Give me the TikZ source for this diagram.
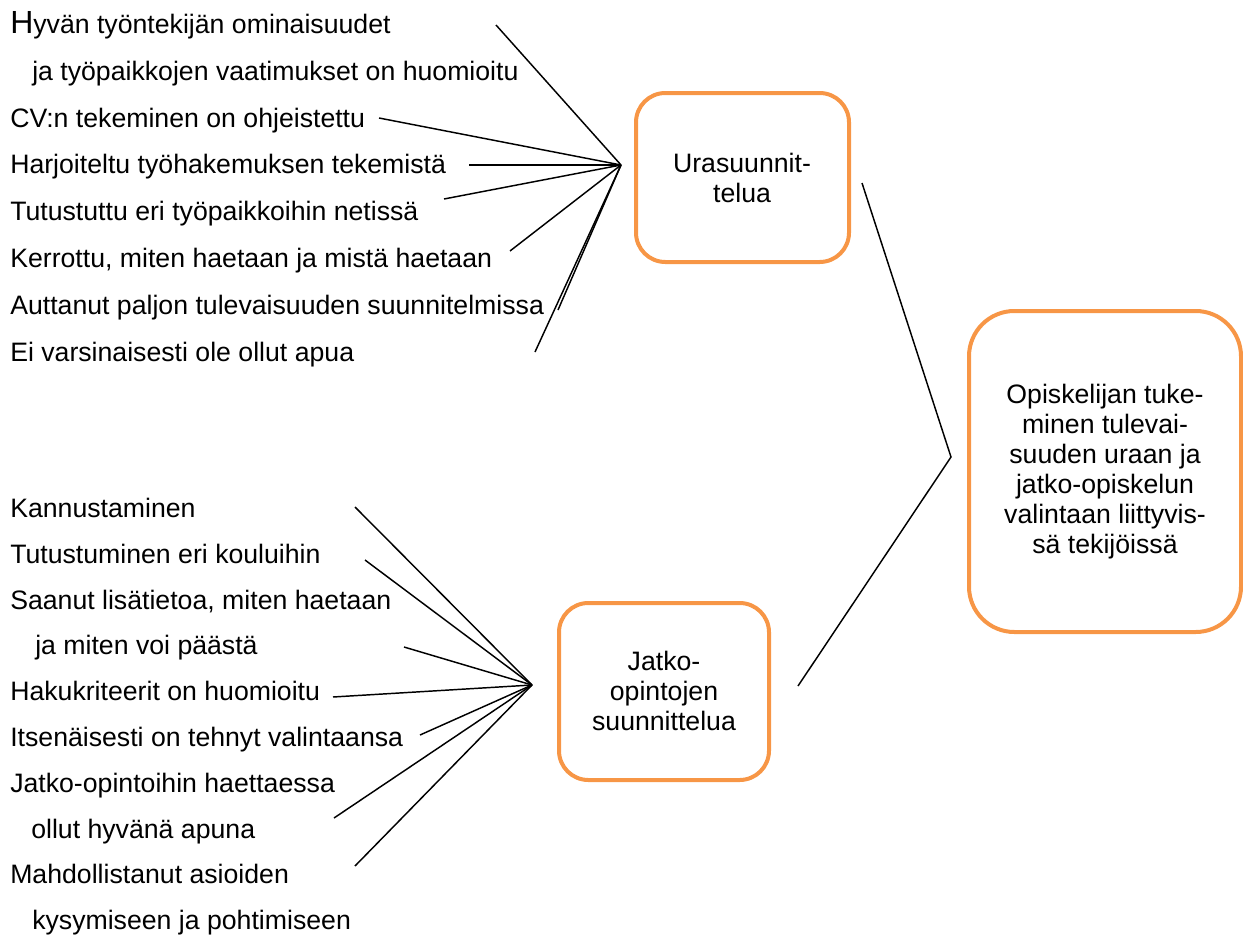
\documentclass[tikz,border=0pt]{standalone}
\usepackage{fontspec}
\setmainfont{Liberation Sans}
\definecolor{boxorange}{HTML}{F79646}
\tikzset{
  item/.style={anchor=base west,inner sep=0pt},
  topic/.style={draw=boxorange,line width=3pt,rounded corners=22pt,align=center,
    font=\fontsize{20}{22.5}\selectfont},
  spoke/.style={line width=1.1pt}
}
\begin{document}
\begin{tikzpicture}[x=0.75pt,y=-0.75pt,font=\fontsize{20}{24}\selectfont]
    \useasboundingbox (0,0) rectangle (1243,935);
    % boxes
    \draw[topic] (636,93) rectangle (849,262);
    \node[align=center,font=\fontsize{20}{22.5}\selectfont] (ura) at (742,178) {Urasuunnit-\\telua};
    \draw[topic] (559,603) rectangle (769,780);
    \node[align=center,font=\fontsize{20}{22.5}\selectfont] (jatko) at (664,691) {Jatko-\\opintojen\\suunnittelua};
    \draw[topic,rounded corners=34pt] (969,311) rectangle (1241,632);
    \node[align=center,font=\fontsize{20}{22.5}\selectfont] (tuki) at (1105,472) {Opiskelijan tuke-\\minen tulevai-\\suuden uraan ja\\jatko-opiskelun\\valintaan liittyvis-\\sä tekijöissä};
    % upper items
    \node[item] (u1) at (10,33) {{\fontsize{24}{24}\selectfont H}yvän työntekijän ominaisuudet};
    \node[item] (u2) at (32,80) {ja työpaikkojen vaatimukset on huomioitu};
    \node[item] (u3) at (10,127) {CV:n tekeminen on ohjeistettu};
    \node[item] (u4) at (10,173) {Harjoiteltu työhakemuksen tekemistä};
    \node[item] (u5) at (10,220) {Tutustuttu eri työpaikkoihin netissä};
    \node[item] (u6) at (10,267) {Kerrottu, miten haetaan ja mistä haetaan};
    \node[item] (u7) at (10,314) {Auttanut paljon tulevaisuuden suunnitelmissa};
    \node[item] (u8) at (10,361) {Ei varsinaisesti ole ollut apua};
    % lower items
    \node[item] (l1) at (10,517) {Kannustaminen};
    \node[item] (l2) at (10,563) {Tutustuminen eri kouluihin};
    \node[item] (l3) at (10,609) {Saanut lisätietoa, miten haetaan};
    \node[item] (l4) at (35,654) {ja miten voi päästä};
    \node[item] (l5) at (10,700) {Hakukriteerit on huomioitu};
    \node[item] (l6) at (10,746) {Itsenäisesti on tehnyt valintaansa};
    \node[item] (l7) at (10,792) {Jatko-opintoihin haettaessa};
    \node[item] (l8) at (31,838) {ollut hyvänä apuna};
    \node[item] (l9) at (10,883) {Mahdollistanut asioiden};
    \node[item] (l10) at (32,929) {kysymiseen ja pohtimiseen};
    % spoke ends
    \coordinate (hu) at (621,165);
    \coordinate (hl) at (532,685);
    \coordinate (hr) at (951,457);
    \coordinate (eu1) at (496,25);
    \coordinate (eu2) at (379,118);
    \coordinate (eu3) at (469,165);
    \coordinate (eu4) at (444,199);
    \coordinate (eu5) at (510,251);
    \coordinate (eu6) at (558,310);
    \coordinate (eu7) at (535,352);
    \coordinate (el1) at (355,507);
    \coordinate (el2) at (365,560);
    \coordinate (el3) at (404,647);
    \coordinate (el4) at (333,697);
    \coordinate (el5) at (420,735);
    \coordinate (el6) at (334,818);
    \coordinate (el7) at (355,866);
    \coordinate (er1) at (862,183);
    \coordinate (er2) at (798,686);
    \foreach \i in {1,...,7}{
      \draw[spoke] (eu\i) -- (hu);
      \draw[spoke] (el\i) -- (hl);
    }
    \draw[spoke] (er1) -- (hr) -- (er2);
\end{tikzpicture}
\end{document}
